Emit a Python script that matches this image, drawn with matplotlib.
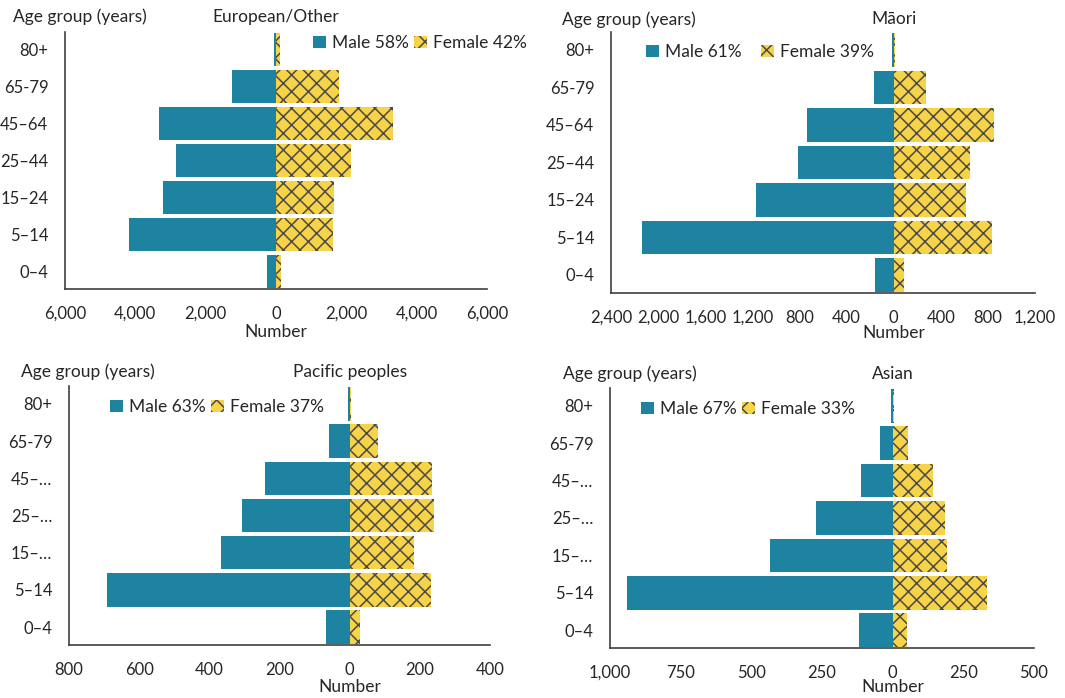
"""
Age-sex pyramids by ethnic group (four panels, male left / female right)
"""
import matplotlib
matplotlib.use("Agg")
import matplotlib.pyplot as plt
import matplotlib.transforms as mtransforms
from matplotlib.ticker import FuncFormatter

plt.rcParams["font.family"] = ["Lato", "DejaVu Sans"]
plt.rcParams["hatch.linewidth"] = 1.1

W, H = 1065, 698
TEAL = "#1d83a0"
YELLOW = "#f7d348"
HATCH = "#4a4a4a"
TXT = "#262626"
FS = 12.5
TICK_FS = 12

# ── data (bottom → top) ─────────────────────────────────────
AGE_FULL = ["0–4", "5–14", "15–24", "25–44", "45–64", "65-79", "80+"]
AGE_SHORT = ["0–4", "5–14", "15–…", "25–…", "45–…", "65-79", "80+"]

EURO_MALE = [250, 4170, 3200, 2840, 3340, 1260, 70]
EURO_FEMALE = [140, 1610, 1660, 2120, 3330, 1800, 100]
EURO_LEGEND = ["Male 58%", "Female 42%"]
EURO_TICKS = [-6000, -4000, -2000, 0, 2000, 4000, 6000]

MAORI_MALE = [161, 2134, 1167, 814, 738, 170, 10]
MAORI_FEMALE = [88, 837, 613, 644, 851, 271, 10]
MAORI_LEGEND = ["Male 61%", "Female 39%"]
MAORI_TICKS = [-2400, -2000, -1600, -1200, -800, -400, 0, 400, 800, 1200]

PAC_MALE = [68, 691, 368, 306, 241, 58, 4]
PAC_FEMALE = [30, 232, 182, 239, 235, 80, 4]
PAC_LEGEND = ["Male 63%", "Female 37%"]
PAC_TICKS = [-800, -600, -400, -200, 0, 200, 400]

ASIAN_MALE = [120, 940, 433, 272, 112, 45, 5]
ASIAN_FEMALE = [50, 332, 192, 184, 143, 54, 5]
ASIAN_LEGEND = ["Male 67%", "Female 33%"]
ASIAN_TICKS = [-1000, -750, -500, -250, 0, 250, 500]


def fx(x):
    return x / W


def fy(y):
    return 1 - y / H


def panel(box, title, ages, male, female, legend, ticks,
          ylab_xy, title_y, leg_xy, num_y, colsp):
    left, top, right, bottom = box
    ax = plt.gcf().add_axes([fx(left), fy(bottom), (right - left) / W, (bottom - top) / H])
    y = list(range(len(ages)))
    hm = ax.barh(y, [-v for v in male], height=0.9, color=TEAL, linewidth=0, label=legend[0])
    hf = ax.barh(y, female, height=0.9, color=YELLOW, edgecolor=HATCH, linewidth=0,
                 hatch="xx", label=legend[1])

    ax.set_xlim(ticks[0], ticks[-1])
    ax.set_ylim(-0.48, 6.48)
    ax.set_xticks(ticks)
    ax.xaxis.set_major_formatter(FuncFormatter(lambda v, p: f"{abs(v):,.0f}"))
    ax.set_yticks(y)
    ax.set_yticklabels(ages)
    ax.tick_params(axis="both", length=0, labelsize=TICK_FS, colors=TXT)
    ax.tick_params(axis="x", pad=12)
    ax.tick_params(axis="y", pad=12)
    for s in ("top", "right"):
        ax.spines[s].set_visible(False)
    for s in ("left", "bottom"):
        ax.spines[s].set_color("#404040")
        ax.spines[s].set_linewidth(1.2)

    # 제목·Number 는 0 위치 기준 가운데 정렬
    tr = mtransforms.blended_transform_factory(ax.transData, plt.gcf().transFigure)
    ax.text(0, fy(title_y), title, transform=tr, ha="center", va="center", fontsize=FS, color=TXT)
    ax.text(0, fy(num_y), "Number", transform=tr, ha="center", va="center", fontsize=FS, color=TXT)
    plt.gcf().text(fx(ylab_xy[0]), fy(ylab_xy[1]), "Age group (years)", ha="left", va="center",
                   fontsize=FS, color=TXT)

    ax.legend(handles=[hm, hf], loc="center left", bbox_to_anchor=(fx(leg_xy[0]), fy(leg_xy[1])),
              bbox_transform=plt.gcf().transFigure, ncol=2, frameon=False, fontsize=FS,
              handlelength=0.75, handleheight=0.75, handletextpad=0.35, columnspacing=colsp,
              borderpad=0, borderaxespad=0, labelcolor=TXT)
    return ax


fig = plt.figure(figsize=(W / 100, H / 100), dpi=100)

panel((65, 32, 487, 289), "European/Other", AGE_FULL, EURO_MALE, EURO_FEMALE, EURO_LEGEND,
      EURO_TICKS, (13, 17), 17, (313, 43), 332, 0.3)
panel((611, 32, 1035, 293), "Māori", AGE_FULL, MAORI_MALE, MAORI_FEMALE, MAORI_LEGEND,
      MAORI_TICKS, (562, 20), 19, (646, 52), 333, 1.1)
panel((69, 386, 490, 645), "Pacific peoples", AGE_SHORT, PAC_MALE, PAC_FEMALE, PAC_LEGEND,
      PAC_TICKS, (21, 372), 372, (110, 407), 687, 0.3)
panel((610, 388, 1034, 648), "Asian", AGE_SHORT, ASIAN_MALE, ASIAN_FEMALE, ASIAN_LEGEND,
      ASIAN_TICKS, (563, 374), 374, (641, 409), 687, 0.3)

fig.savefig("out.png", dpi=100)
print("saved out.png")
